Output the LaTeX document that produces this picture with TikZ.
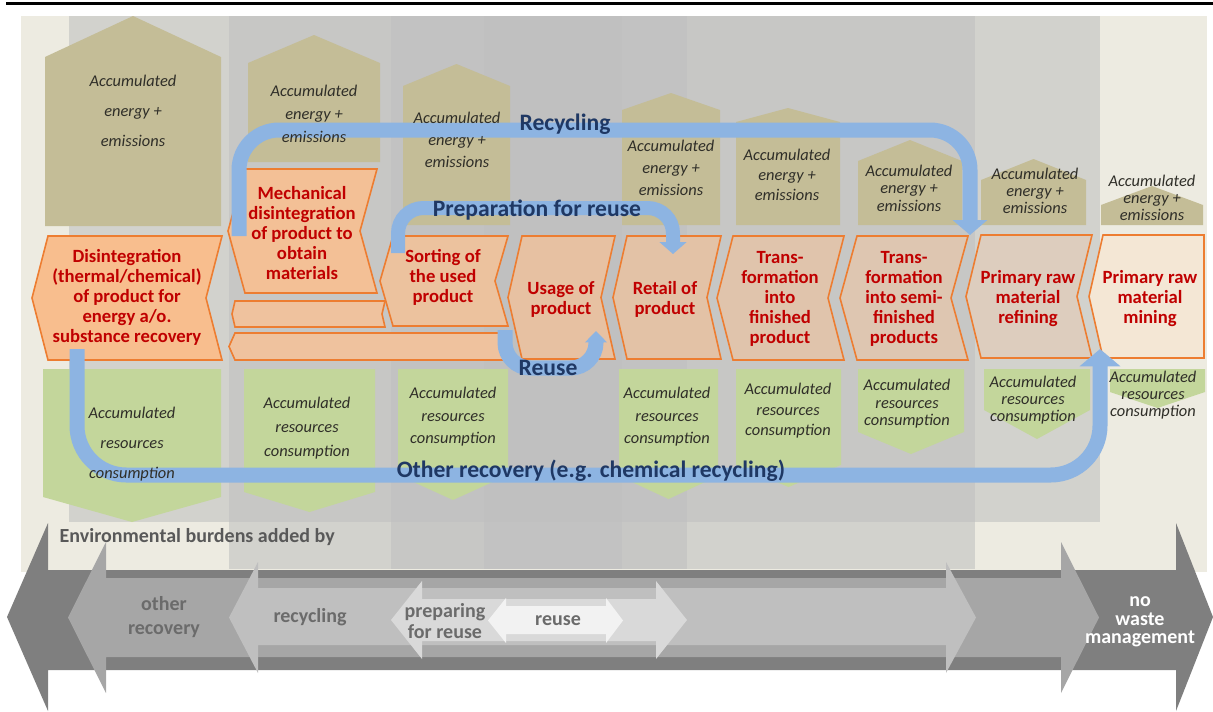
\documentclass[tikz,border=0pt]{standalone}
\usepackage{fontspec}
\setmainfont{Carlito}
\usetikzlibrary{arrows.meta}

\definecolor{paper}{HTML}{EDEBE1}
\definecolor{layergray}{HTML}{C0C0C0}
\definecolor{hexfill}{HTML}{C4BD97}
\definecolor{resfill}{HTML}{C3D69B}
\definecolor{chevline}{HTML}{ED7D31}
\definecolor{stagered}{HTML}{C00000}
\definecolor{flowblue}{HTML}{8DB4E2}
\definecolor{flownavy}{HTML}{1F3864}
\definecolor{accgray}{HTML}{2F2E28}
\definecolor{bandtext}{HTML}{6B6B6B}
% chevron fills, left to right
\definecolor{disfill}{HTML}{F8BE8E}
\definecolor{mechfill}{HTML}{F3C096}
\definecolor{stripfill}{HTML}{EFC29E}
\definecolor{sortfill}{HTML}{ECC29E}
\definecolor{usefill}{HTML}{E7C1A2}
\definecolor{retfill}{HTML}{E3C2A6}
\definecolor{finfill}{HTML}{E0C4AC}
\definecolor{semifill}{HTML}{DEC6B1}
\definecolor{refill}{HTML}{DDCDBE}
\definecolor{minefill}{HTML}{F4E7D5}
% bottom arrows
\definecolor{arrowA}{HTML}{7F7F7F}
\definecolor{arrowB}{HTML}{A6A6A6}
\definecolor{arrowC}{HTML}{BFBFBF}
\definecolor{arrowD}{HTML}{D9D9D9}
\definecolor{arrowE}{HTML}{F2F2F2}

\begin{document}
\begin{tikzpicture}[x=0.75pt,y=-0.75pt,
  layer/.style={fill=layergray, fill opacity=0.58},
  chev/.style={draw=chevline, line width=1.2pt},
  stage/.style={text=stagered, align=center, font=\fontsize{14}{15}\selectfont\bfseries},
  acc/.style={text=accgray, align=center, font=\fontsize{12.3}{#1}\selectfont\itshape},
  flow/.style={draw=flowblue, line width=11.25pt},
  flowlbl/.style={text=flownavy, font=\fontsize{17.7}{20}\selectfont\bfseries},
  band/.style={text=bandtext, align=center, font=\fontsize{15}{18}\selectfont\bfseries}]
\useasboundingbox (0,0) rectangle (1213,711);

% top rule and background
\draw[line width=2.3pt] (6,3.5) -- (1213,3.5);
\fill[paper] (21,16) rectangle (1207,572);
\foreach \xa/\xb/\yb in {69/1100/522, 229/975/569, 391/687/569, 484/622/569}
  \fill[layer] (\xa,16) rectangle (\xb,\yb);

% energy houses
\foreach \xa/\xb/\ya/\ye/\yb in {45/221/16/57/226, 248/380/35/63/162, 403/510/64/86/225,
    622/720/93/110/225, 736/840/108/122/225, 858/962/140/161/225, 981/1086/159/180/225,
    1101/1203/186/205/225}
  \fill[hexfill] (\xa,\yb) -- (\xa,\ye) -- ({(\xa+\xb)/2},\ya) -- (\xb,\ye) -- (\xb,\yb) -- cycle;

% resource tags
\foreach \xa/\xb/\ys/\yp in {43/221/497/522, 244/375/492/512, 398/508/475/500, 619/718/476/499,
    736/841/465/487, 858/964/432/454, 984/1090/410/439, 1110/1205/392/408}
  \fill[resfill] (\xa,369) -- (\xb,369) -- (\xb,\ys) -- ({(\xa+\xb)/2},\yp) -- (\xa,\ys) -- cycle;

% life cycle chevrons
\foreach \xa/\xb/\da/\db/\ya/\yb/\fc in {32/222/16/16/236/360/disfill, 228/377/17/17/169/293/mechfill,
    232/385/3/3/301/327/stripfill, 229/505/6/0/333/360/stripfill, 380/508/13/13/236/326/sortfill,
    508/615/14/14/236/359/usefill, 613/721/14/14/236/359/retfill, 717/844/16/16/236/360/finfill,
    840/968/17/17/236/360/semifill, 966/1092/15/15/235/358/refill, 1089/1204/14/0/235/358/minefill}
  \draw[chev, fill=\fc] (\xa+\da,\ya) -- (\xb,\ya) -- (\xb-\db,{(\ya+\yb)/2}) -- (\xb,\yb)
    -- (\xa+\da,\yb) -- (\xa,{(\ya+\yb)/2}) -- cycle;

% recovery loops
\coordinate (recFrom) at (239,236);
\coordinate (recTo) at (970,235);
\coordinate (prepFrom) at (398,253);
\coordinate (prepTo) at (673,254);
\coordinate (reuseFrom) at (505,330);
\coordinate (reuseTo) at (596,331);
\coordinate (otherFrom) at (77,349);
\coordinate (otherTo) at (1100,349);
\draw[flow, rounded corners=30pt, -{Triangle[length=11.25pt,width=25.5pt]}]
  (recFrom) |- (970,130) -- (recTo);
\draw[flow, line width=10.5pt, rounded corners=19pt, -{Triangle[length=9pt,width=20pt]}]
  (prepFrom) |- (673,208) -- (prepTo);
\draw[flow, rounded corners=19pt, -{Triangle[length=8.5pt,width=16pt]}]
  (reuseFrom) |- (596,368) -- (reuseTo);
\draw[flow, rounded corners=37pt, -{Triangle[length=13pt,width=30pt]}]
  (otherFrom) |- (1100,475) -- (otherTo);
\node[flowlbl] (recLbl) at (565,124) {Recycling};
\node[flowlbl] (prepLbl) at (537,210) {Preparation for reuse};
\node[flowlbl] (reuseLbl) at (548,368) {Reuse};
\node[flowlbl] (otherLbl) at (591,471) {Other recovery (e.g. chemical recycling)};

% stage labels
\node[stage] (disint) at (127,297) {Disintegration\\(thermal/chemical)\\of product for\\energy a/o.\\substance recovery};
\node[stage] (mech) at (302,233) {Mechanical\\disintegration\\of product to\\obtain\\materials};
\node[stage] (sort) at (443,277) {Sorting of\\the used\\product};
\node[stage] (usage) at (561,299) {Usage of\\product};
\node[stage] (retail) at (665,299) {Retail of\\product};
\node[stage] (transfin) at (780,299) {Trans-\\formation\\into\\finished\\product};
\node[stage] (transsemi) at (904,299) {Trans-\\formation\\into semi-\\finished\\products};
\node[stage] (refine) at (1028,299) {Primary raw\\material\\refining};
\node[stage] (mine) at (1150,299) {Primary raw\\material\\mining};

% energy + emissions
\node[acc=22.5] (en1) at (133,111) {Accumulated\\energy +\\emissions};
\node[acc=17.25] (en2) at (314,114) {Accumulated\\energy +\\emissions};
\node[acc=16.5] (en3) at (457,140) {Accumulated\\energy +\\emissions};
\node[acc=16.5] (en4) at (671,168) {Accumulated\\energy +\\emissions};
\node[acc=15] (en5) at (787,175) {Accumulated\\energy +\\emissions};
\node[acc=13.1] (en6) at (909,188) {Accumulated\\energy +\\emissions};
\node[acc=12.75] (en7) at (1035,191) {Accumulated\\energy +\\emissions};
\node[acc=12.75] (en8) at (1152,198) {Accumulated\\energy +\\emissions};

% resources consumption
\node[acc=22.75] (res1) at (132,444) {Accumulated\\resources\\consumption};
\node[acc=18] (res2) at (307,428) {Accumulated\\resources\\consumption};
\node[acc=16.9] (res3) at (453,417) {Accumulated\\resources\\consumption};
\node[acc=16.9] (res4) at (667,417) {Accumulated\\resources\\consumption};
\node[acc=15.4] (res5) at (788,411) {Accumulated\\resources\\consumption};
\node[acc=13.1] (res6) at (907,404) {Accumulated\\resources\\consumption};
\node[acc=12.75] (res7) at (1033,400) {Accumulated\\resources\\consumption};
\node[acc=12.75] (res8) at (1153,395) {Accumulated\\resources\\consumption};

% waste hierarchy arrows
\node[band, anchor=west, text=black!65] (burden) at (55,537) {Environmental burdens added by};
\foreach \pa/\pb/\pc/\pd/\qa/\qb/\qc/\qd/\col in {7/48/1176/1213/523/711/570/670/arrowA,
    68/106/1061/1099/542/693/578/657/arrowB, 229/258/946/976/562/673/588/645/arrowC,
    391/422/656/687/581/659/599/641/arrowD, 488/506/606/623/598/643/606/634/arrowE}
  \fill[\col] (\pa,{(\qa+\qb)/2}) -- (\pb,\qa) -- (\pb,\qc) -- (\pc,\qc) -- (\pc,\qa)
    -- (\pd,{(\qa+\qb)/2}) -- (\pc,\qb) -- (\pc,\qd) -- (\pb,\qd) -- (\pb,\qb) -- cycle;
\node[band] (otherRec) at (164,617) {other\\recovery};
\node[band] (recyc) at (310,617) {recycling};
\node[band, font=\fontsize{15}{15.75}\selectfont\bfseries] (prepare) at (445,621) {preparing\\for reuse};
\node[band] (reuse) at (558,621) {reuse};
\node[band, text=white, font=\fontsize{15}{14}\selectfont\bfseries] (nowaste) at (1140,622) {no\\waste\\management};
\end{tikzpicture}
\end{document}
